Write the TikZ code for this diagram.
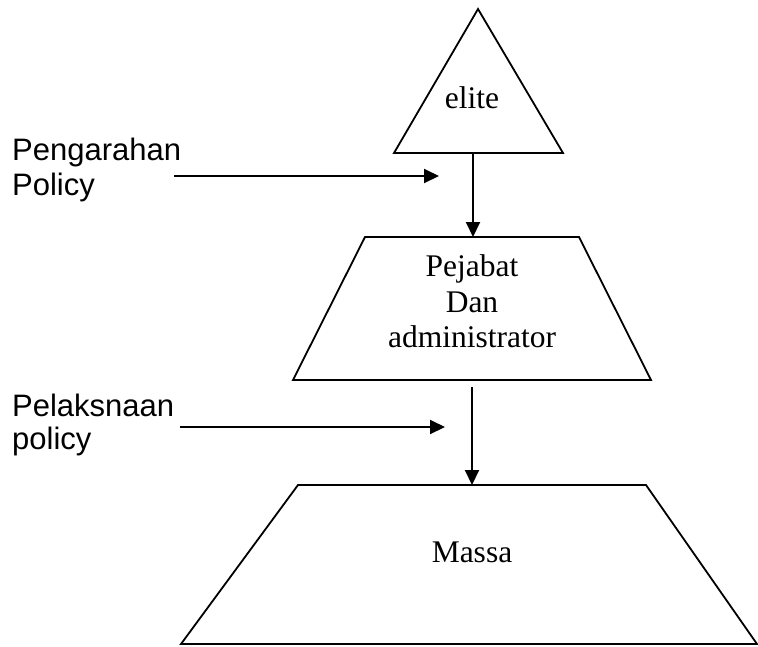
\documentclass[tikz,border=0pt]{standalone}
\usepackage{fontspec}
\setmainfont{Liberation Serif}
\newfontfamily\labelfont{Liberation Sans}
\usetikzlibrary{arrows.meta}
\begin{document}
\begin{tikzpicture}[x=1pt,y=-1pt,
  level/.style={draw=black,line width=1.8pt,line join=miter},
  flow/.style={draw=black,line width=2pt,-{Triangle[length=15pt,width=14pt]}},
  serif/.style={inner sep=0pt,anchor=base,font=\fontsize{31.5}{35}\selectfont},
  side/.style={inner sep=0pt,anchor=base west,font=\labelfont\fontsize{31}{35}\selectfont}]
  \useasboundingbox (0,0) rectangle (758,646);

  % the three levels of the pyramid
  \draw[level] (478,9) -- (563,153) -- (394,153) -- cycle;
  \draw[level] (365,237) -- (579,237) -- (651,380) -- (293,380) -- cycle;
  \draw[level] (298,485) -- (646,485) -- (757,644) -- (181,644) -- cycle;

  % level labels
  \node[serif] (elite) at (472,108) {elite};
  \node[serif] (pejabat) at (472,276) {Pejabat};
  \node[serif] (dan) at (472,312) {Dan};
  \node[serif] (admin) at (472,347) {administrator};
  \node[serif] (massa) at (472,562) {Massa};

  % side labels
  \node[side] (arahA) at (12,160) {Pengarahan};
  \node[side] (arahB) at (12,195) {Policy};
  \node[side] (laksA) at (12,416) {Pelaksnaan};
  \node[side] (laksB) at (12,449) {policy};

  % connector end points
  \coordinate (eliteBase) at (473,153);
  \coordinate (pejTop) at (473,237);
  \coordinate (pejBase) at (472,387);
  \coordinate (massaTop) at (472,485);
  \coordinate (arahStart) at (174,176);
  \coordinate (arahEnd) at (439,176);
  \coordinate (laksStart) at (180,427);
  \coordinate (laksEnd) at (445,427);

  % flow arrows
  \draw[flow] (eliteBase) -- (pejTop);
  \draw[flow] (pejBase) -- (massaTop);
  \draw[flow] (arahStart) -- (arahEnd);
  \draw[flow] (laksStart) -- (laksEnd);
\end{tikzpicture}
\end{document}
